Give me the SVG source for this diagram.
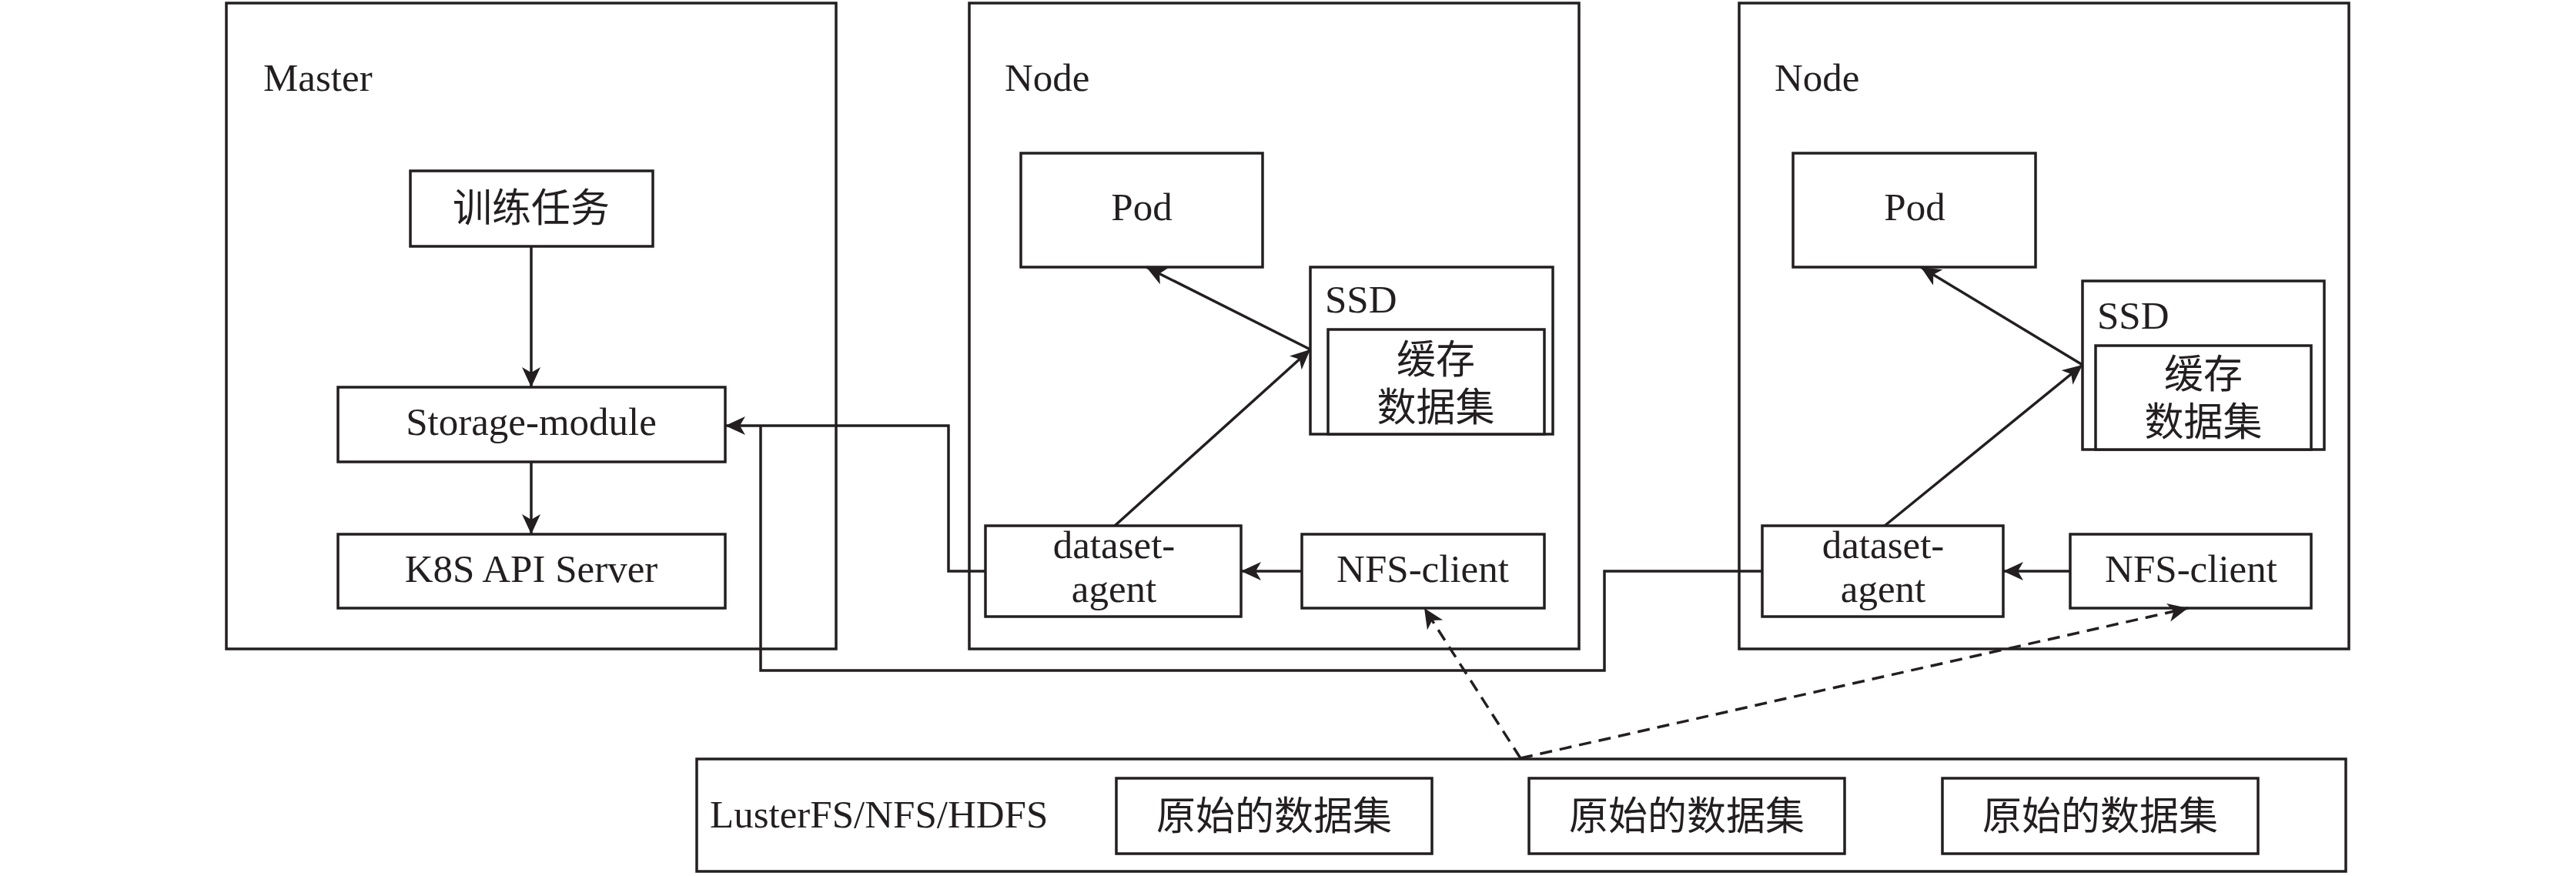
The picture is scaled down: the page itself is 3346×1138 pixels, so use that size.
<svg xmlns="http://www.w3.org/2000/svg" width="3346" height="1138" viewBox="0 0 3346 1138">
<style>
.box{fill:#fff;stroke:#231f20;stroke-width:3.5}
.t{font-family:"Liberation Serif","Noto Sans CJK SC",serif;font-size:51px;fill:#231f20}
.c{text-anchor:middle}
.ln{fill:none;stroke:#231f20;stroke-width:3.5}
.dash{fill:none;stroke:#231f20;stroke-width:3.5;stroke-dasharray:16 10}
</style>
<defs>
<marker id="ah" markerUnits="userSpaceOnUse" markerWidth="30" markerHeight="26" refX="26" refY="12" orient="auto">
<path d="M0,0 L26,12 L0,24 L7,12 z" fill="#231f20"/>
</marker>
</defs>
<rect width="3346" height="1138" fill="#fff"/>

<g id="master">
<rect class="box" x="294" y="4" width="792" height="839"/>
<text class="t" x="342" y="118">Master</text>
</g>
<g id="train">
<rect class="box" x="533" y="222" width="315" height="98"/>
<text class="t c" x="690" y="288">训练任务</text>
</g>
<g id="storage">
<rect class="box" x="439" y="503" width="503" height="97"/>
<text class="t c" x="690" y="565">Storage-module</text>
</g>
<g id="k8s">
<rect class="box" x="439" y="694" width="503" height="96"/>
<text class="t c" x="690" y="756">K8S API Server</text>
</g>

<g id="node1">
<rect class="box" x="1259" y="4" width="792" height="839"/>
<text class="t" x="1305" y="118">Node</text>
</g>
<g id="pod1">
<rect class="box" x="1326" y="199" width="314" height="148"/>
<text class="t c" x="1483" y="286">Pod</text>
</g>
<g id="ssd1">
<rect class="box" x="1702" y="347" width="315" height="217"/>
<text class="t" x="1721" y="406">SSD</text>
<rect class="box" x="1725" y="428" width="281" height="136"/>
<text class="t c" x="1865" y="485">缓存</text>
<text class="t c" x="1865" y="547">数据集</text>
</g>
<g id="agent1">
<rect class="box" x="1280" y="683" width="332" height="118"/>
<text class="t c" x="1447" y="725">dataset-</text>
<text class="t c" x="1447" y="782">agent</text>
</g>
<g id="nfs1">
<rect class="box" x="1691" y="694" width="315" height="96"/>
<text class="t c" x="1848" y="756">NFS-client</text>
</g>

<g id="node2">
<rect class="box" x="2259" y="4" width="792" height="839"/>
<text class="t" x="2305" y="118">Node</text>
</g>
<g id="pod2">
<rect class="box" x="2329" y="199" width="315" height="148"/>
<text class="t c" x="2487" y="286">Pod</text>
</g>
<g id="ssd2">
<rect class="box" x="2705" y="365" width="314" height="219"/>
<text class="t" x="2724" y="427">SSD</text>
<rect class="box" x="2722" y="449" width="280" height="135"/>
<text class="t c" x="2862" y="504">缓存</text>
<text class="t c" x="2862" y="566">数据集</text>
</g>
<g id="agent2">
<rect class="box" x="2289" y="683" width="313" height="118"/>
<text class="t c" x="2446" y="725">dataset-</text>
<text class="t c" x="2446" y="782">agent</text>
</g>
<g id="nfs2">
<rect class="box" x="2689" y="694" width="313" height="96"/>
<text class="t c" x="2846" y="756">NFS-client</text>
</g>

<g id="fs">
<rect class="box" x="905" y="986" width="2142" height="146"/>
<text class="t" x="922" y="1075">LusterFS/NFS/HDFS</text>
<rect class="box" x="1450" y="1011" width="410" height="98"/>
<text class="t c" x="1655" y="1078">原始的数据集</text>
<rect class="box" x="1986" y="1011" width="410" height="98"/>
<text class="t c" x="2191" y="1078">原始的数据集</text>
<rect class="box" x="2523" y="1011" width="410" height="98"/>
<text class="t c" x="2728" y="1078">原始的数据集</text>
</g>

<g id="connectors">
<line class="ln" x1="690" y1="320" x2="690" y2="503" marker-end="url(#ah)"/>
<line class="ln" x1="690" y1="600" x2="690" y2="694" marker-end="url(#ah)"/>
<polyline class="ln" points="1280,742 1232,742 1232,553 942,553" marker-end="url(#ah)"/>
<polyline class="ln" points="988,553 988,871 2084,871 2084,742 2289,742"/>
<line class="ln" x1="1691" y1="742" x2="1612" y2="742" marker-end="url(#ah)"/>
<line class="ln" x1="2689" y1="742" x2="2602" y2="742" marker-end="url(#ah)"/>
<line class="ln" x1="1448" y1="683" x2="1702" y2="454" marker-end="url(#ah)"/>
<line class="ln" x1="1702" y1="454" x2="1489" y2="347" marker-end="url(#ah)"/>
<line class="ln" x1="2448" y1="683" x2="2705" y2="474" marker-end="url(#ah)"/>
<line class="ln" x1="2705" y1="474" x2="2495" y2="347" marker-end="url(#ah)"/>
<line class="dash" x1="1975" y1="985" x2="1850" y2="790" marker-end="url(#ah)"/>
<line class="dash" x1="1975" y1="985" x2="2842" y2="790" marker-end="url(#ah)"/>
</g>
</svg>
